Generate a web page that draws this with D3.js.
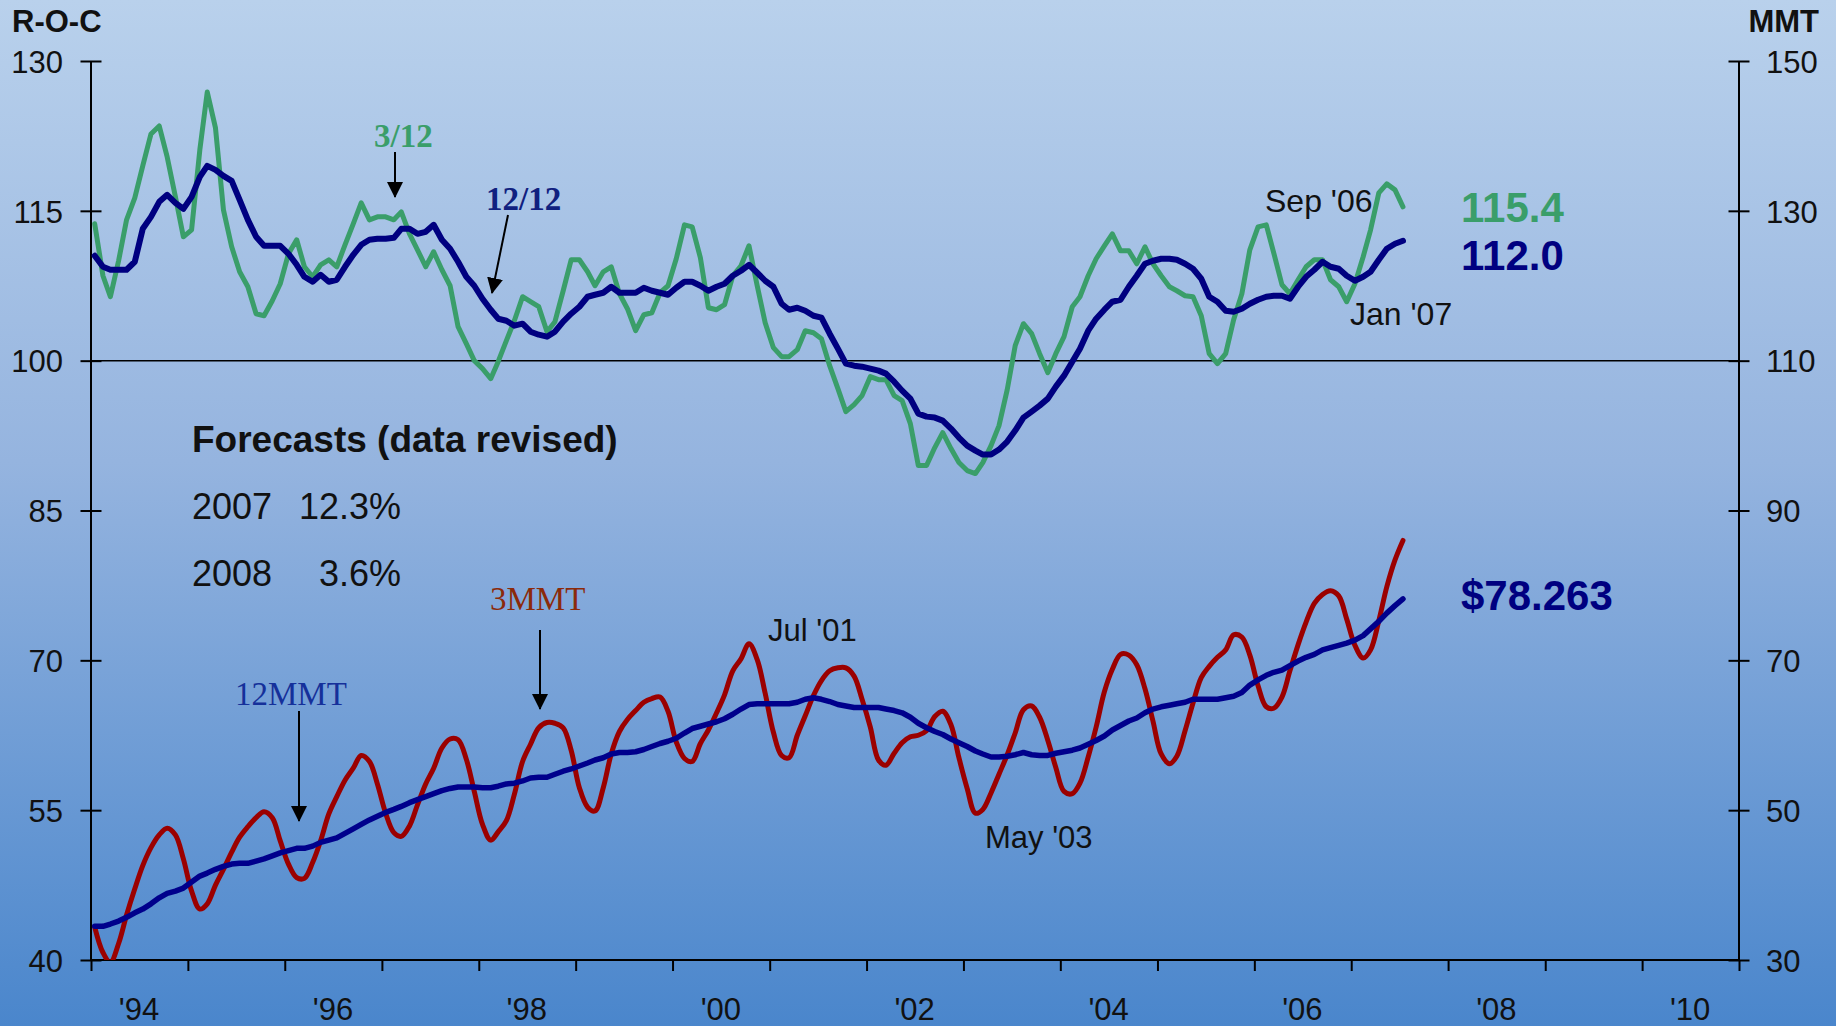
<!DOCTYPE html>
<html>
<head>
<meta charset="utf-8">
<script src="https://cdn.jsdelivr.net/npm/d3@7"></script>
<style>
  html, body { margin: 0; padding: 0; background: #fff; }
  svg { display: block; font-family: "Liberation Sans", Arial, sans-serif; }
</style>
</head>
<body>
<svg id="chart" width="1836" height="1026"></svg>
<script>
// monthly series, Jan 1994 .. Jul 2007
const roc3 = [
  113.7, 108.5, 106.4, 110.0, 114.1, 116.3, 119.5, 122.7, 123.5, 120.4, 116.4, 112.4,
  113.1, 121.1, 126.9, 123.3, 115.1, 111.4, 108.9, 107.4, 104.7, 104.5, 106.0, 107.7,
  110.7, 112.1, 109.4, 108.4, 109.6, 110.1, 109.4, 111.6, 113.7, 115.8, 114.1, 114.4,
  114.4, 114.1, 114.9, 112.7, 111.1, 109.4, 110.9, 109.1, 107.5, 103.4, 101.7, 100.0,
  99.2, 98.2, 99.9, 102.0, 104.0, 106.4, 105.9, 105.4, 102.9, 103.9, 107.0, 110.1,
  110.1, 108.9, 107.5, 108.9, 109.4, 106.7, 105.2, 103.0, 104.6, 104.8, 106.8, 107.5,
  110.2, 113.6, 113.4, 110.3, 105.3, 105.1, 105.6, 108.5, 109.5, 111.5, 107.5, 103.8,
  101.3, 100.4, 100.4, 101.1, 103.0, 102.8, 102.2, 99.5, 97.2, 94.9, 95.6, 96.5,
  98.4, 98.1, 98.1, 96.5, 96.0, 93.7, 89.5, 89.5, 91.3, 92.8, 91.2, 89.8,
  89.0, 88.7, 89.8, 91.5, 93.5, 97.1, 101.5, 103.7, 102.7, 100.7, 98.8, 100.7,
  102.4, 105.4, 106.4, 108.5, 110.2, 111.5, 112.7, 111.0, 111.0, 109.7, 111.4, 109.7,
  108.5, 107.4, 107.0, 106.5, 106.4, 104.5, 100.7, 99.7, 100.7, 104.1, 106.7, 111.1,
  113.4, 113.6, 110.8, 107.6, 106.7, 108.1, 109.4, 110.1, 110.1, 108.1, 107.4, 105.9,
  107.7, 110.4, 113.1, 116.8, 117.7, 117.1, 115.4
];
const roc12 = [
  110.5, 109.4, 109.1, 109.1, 109.1, 109.9, 113.2, 114.4, 115.9, 116.6, 115.8, 115.2,
  116.4, 118.4, 119.5, 119.1, 118.5, 118.0, 116.1, 114.1, 112.4, 111.5, 111.5, 111.5,
  110.7, 109.6, 108.4, 107.9, 108.6, 107.9, 108.1, 109.4, 110.6, 111.6, 112.1, 112.2,
  112.2, 112.3, 113.2, 113.2, 112.7, 112.9, 113.6, 112.1, 111.2, 109.9, 108.4, 107.5,
  106.2, 105.1, 104.2, 104.0, 103.5, 103.7, 102.9, 102.6, 102.4, 102.9, 103.9, 104.7,
  105.4, 106.4, 106.6, 106.8, 107.4, 106.8, 106.8, 106.8, 107.3, 107.0, 106.8, 106.6,
  107.3, 107.9, 107.9, 107.5, 107.0, 107.4, 107.7, 108.5, 109.0, 109.6, 108.8, 108.0,
  107.4, 105.7, 105.1, 105.3, 105.0, 104.5, 104.3, 102.7, 101.2, 99.7, 99.5, 99.4,
  99.2, 99.0, 98.7, 97.9, 97.0, 96.2, 94.7, 94.4, 94.3, 94.0, 93.2, 92.3,
  91.5, 91.0, 90.6, 90.6, 91.1, 91.9, 93.0, 94.3, 94.9, 95.5, 96.2, 97.4,
  98.5, 99.9, 101.2, 103.0, 104.2, 105.1, 105.9, 106.1, 107.4, 108.5, 109.7, 110.0,
  110.2, 110.2, 110.1, 109.7, 109.2, 108.2, 106.4, 105.9, 105.0, 104.9, 105.2, 105.7,
  106.1, 106.4, 106.5, 106.5, 106.2, 107.4, 108.4, 109.1, 109.9, 109.4, 109.2, 108.5,
  108.0, 108.4, 108.9, 110.1, 111.2, 111.7, 112.0
];
const mmt3 = [
  34.4, 31.0, 29.7, 32.2, 36.0, 39.5, 42.6, 45.0, 46.7, 47.6, 46.7, 43.5,
  39.2, 36.8, 37.5, 40.0, 42.1, 44.4, 46.4, 47.8, 49.0, 49.8, 49.0, 45.9,
  42.8, 41.0, 40.9, 43.0, 45.9, 49.5, 51.8, 54.0, 55.6, 57.3, 56.5, 53.5,
  49.6, 47.0, 46.5, 47.9, 50.7, 53.5, 55.6, 58.3, 59.5, 59.4, 56.8, 52.5,
  48.1, 46.0, 47.1, 48.6, 52.1, 56.5, 58.8, 61.0, 61.7, 61.6, 61.0, 58.0,
  53.0, 50.4, 49.9, 53.0, 57.5, 60.5, 62.1, 63.3, 64.4, 64.9, 65.1, 63.2,
  59.1, 56.9, 56.5, 58.9, 60.7, 63.0, 65.4, 68.6, 70.2, 72.2, 70.1, 65.6,
  60.4, 57.3, 57.0, 60.0, 62.6, 65.3, 67.3, 68.6, 69.0, 69.0, 67.9, 64.8,
  61.1, 56.7, 56.0, 57.6, 59.0, 59.8, 60.0, 60.6, 62.5, 63.2, 61.4, 57.0,
  52.9, 49.6, 50.1, 52.3, 54.8, 57.4, 60.3, 63.4, 63.9, 62.4, 59.3, 55.7,
  52.5, 52.2, 53.6, 57.1, 61.1, 65.8, 68.8, 70.8, 70.7, 69.4, 66.2, 61.9,
  57.5, 56.2, 57.2, 60.6, 64.3, 67.7, 69.2, 70.4, 71.4, 73.4, 73.1, 70.7,
  66.6, 63.8, 63.6, 65.1, 68.6, 72.1, 75.1, 77.6, 78.8, 79.3, 78.6, 75.5,
  72.0, 70.3, 71.4, 75.3, 79.8, 83.4, 86.0
];
const mmt12 = [
  34.5, 34.5, 34.8, 35.2, 35.7, 36.3, 36.8, 37.5, 38.3, 38.9, 39.2, 39.6,
  40.4, 41.2, 41.6, 42.1, 42.5, 42.8, 42.9, 42.9, 43.2, 43.5, 43.9, 44.3,
  44.6, 44.9, 44.9, 45.2, 45.7, 46.0, 46.3, 46.9, 47.5, 48.1, 48.7, 49.2,
  49.7, 50.1, 50.5, 51.0, 51.4, 51.8, 52.2, 52.6, 52.9, 53.1, 53.1, 53.1,
  53.0, 53.0, 53.2, 53.5, 53.6, 53.9, 54.3, 54.4, 54.4, 54.8, 55.2, 55.5,
  55.9, 56.3, 56.7, 57.0, 57.5, 57.7, 57.7, 57.8, 58.1, 58.5, 58.9, 59.2,
  59.6, 60.3, 60.9, 61.2, 61.5, 61.8, 62.2, 62.8, 63.5, 64.1, 64.2, 64.2,
  64.2, 64.2, 64.2, 64.4, 64.8, 65.0, 64.8, 64.5, 64.1, 63.9, 63.7, 63.7,
  63.7, 63.7, 63.5, 63.3, 63.0, 62.4, 61.6, 61.0, 60.5, 60.1, 59.5, 59.0,
  58.5, 57.9, 57.5, 57.1, 57.1, 57.2, 57.4, 57.7, 57.4, 57.3, 57.3, 57.6,
  57.8, 58.0, 58.3, 58.8, 59.3, 59.9, 60.7, 61.3, 61.9, 62.3, 63.0, 63.5,
  63.8, 64.0, 64.2, 64.4, 64.8, 64.8, 64.8, 64.8, 65.0, 65.2, 65.7, 66.7,
  67.4, 68.0, 68.4, 68.7, 69.3, 69.9, 70.4, 70.8, 71.4, 71.7, 72.0, 72.3,
  72.7, 73.3, 74.2, 75.2, 76.3, 77.3, 78.2
];

const leftTicks = [40, 55, 70, 85, 100, 115, 130];
const rightTicks = [30, 50, 70, 90, 110, 130, 150];
const yearLabels = [1994, 1996, 1998, 2000, 2002, 2004, 2006, 2008, 2010];
const forecasts = [
  { year: '2007', value: '12.3%' },
  { year: '2008', value: '3.6%' }
];

const W = 1836, H = 1026;
const plot = { left: 91, right: 1739, top: 61, bottom: 960 };

const GREEN = '#3a9e6a';
const NAVY = '#000080';
const RED = '#9b0000';

const svg = d3.select('#chart');
const defs = svg.append('defs');

const bg = defs.append('linearGradient')
  .attr('id', 'bgGrad').attr('x1', 0).attr('y1', 0).attr('x2', 0).attr('y2', 1);
bg.append('stop').attr('offset', '0%').attr('stop-color', '#b9d1ec');
bg.append('stop').attr('offset', '45%').attr('stop-color', '#95b4df');
bg.append('stop').attr('offset', '100%').attr('stop-color', '#4a86cc');

defs.append('clipPath').attr('id', 'plotClip')
  .append('rect')
  .attr('x', plot.left).attr('y', plot.top)
  .attr('width', plot.right - plot.left).attr('height', plot.bottom - plot.top);

defs.append('marker')
  .attr('id', 'arrow')
  .attr('markerUnits', 'userSpaceOnUse')
  .attr('viewBox', '0 0 16 16')
  .attr('refX', 15).attr('refY', 8)
  .attr('markerWidth', 16).attr('markerHeight', 16)
  .attr('orient', 'auto')
  .append('path')
  .attr('d', 'M0,0 L16,8 L0,16 Z')
  .attr('fill', '#000');

svg.append('rect').attr('width', W).attr('height', H).attr('fill', 'url(#bgGrad)');

const x = d3.scaleTime()
  .domain([new Date(1994, 0, 1), new Date(2011, 0, 1)])
  .range([plot.left, plot.right]);
const yL = d3.scaleLinear().domain([40, 130]).range([plot.bottom, plot.top]);
const yR = d3.scaleLinear().domain([30, 150]).range([plot.bottom, plot.top]);

const dates = d3.range(roc3.length).map(i => new Date(1994, i, 15));

// axes
const leftAxis = svg.append('g')
  .attr('transform', `translate(${plot.left},0)`)
  .call(d3.axisLeft(yL).tickValues(leftTicks).tickSize(0).tickPadding(28));
const rightAxis = svg.append('g')
  .attr('transform', `translate(${plot.right},0)`)
  .call(d3.axisRight(yR).tickValues(rightTicks).tickSize(0).tickPadding(27));

for (const ax of [leftAxis, rightAxis]) {
  ax.select('.domain')
    .attr('d', `M0,${plot.top}V${plot.bottom}`)
    .attr('stroke', '#000').attr('stroke-width', 2);
  ax.selectAll('.tick line')
    .attr('x1', -10.5).attr('x2', 10.5)
    .attr('stroke', '#000').attr('stroke-width', 2);
  ax.selectAll('.tick text')
    .attr('font-size', 31).attr('fill', '#111').attr('dy', '0.36em')
    .attr('font-family', '"Liberation Sans", Arial, sans-serif');
}

const bottomAxis = svg.append('g')
  .attr('transform', `translate(0,${plot.bottom})`)
  .call(d3.axisBottom(x).ticks(d3.timeYear.every(1)).tickSize(11).tickFormat(''));
bottomAxis.select('.domain')
  .attr('d', `M${plot.left},0H${plot.right}`)
  .attr('stroke', '#000').attr('stroke-width', 2);
bottomAxis.selectAll('.tick line').attr('stroke', '#000').attr('stroke-width', 2);

svg.append('g').selectAll('text')
  .data(yearLabels)
  .join('text')
  .attr('x', d => x(new Date(d, 6, 1)))
  .attr('y', 1020)
  .attr('text-anchor', 'middle')
  .attr('font-size', 31)
  .attr('fill', '#111')
  .text(d => "'" + String(d).slice(2));

svg.append('text').attr('x', 12).attr('y', 32)
  .attr('font-size', 31).attr('font-weight', 'bold').attr('fill', '#111').text('R-O-C');
svg.append('text').attr('x', 1819).attr('y', 32).attr('text-anchor', 'end')
  .attr('font-size', 31).attr('font-weight', 'bold').attr('fill', '#111').text('MMT');

// reference line at 100
svg.append('line')
  .attr('x1', plot.left).attr('x2', plot.right)
  .attr('y1', yL(100)).attr('y2', yL(100))
  .attr('stroke', '#000').attr('stroke-width', 1.5);

// series
const lines = svg.append('g').attr('clip-path', 'url(#plotClip)');

function drawLine(values, yScale, color, width, curve) {
  const gen = d3.line()
    .x((d, i) => x(dates[i]))
    .y(d => yScale(d))
    .curve(curve || d3.curveLinear);
  lines.append('path')
    .datum(values)
    .attr('d', gen)
    .attr('fill', 'none')
    .attr('stroke', color)
    .attr('stroke-width', width)
    .attr('stroke-linejoin', 'round')
    .attr('stroke-linecap', 'round');
}

drawLine(mmt3, yR, RED, 5, d3.curveCatmullRom.alpha(0.5));
drawLine(mmt12, yR, '#00008c', 5.5);
drawLine(roc3, yL, GREEN, 5);
drawLine(roc12, yL, NAVY, 6);

// annotations
function label(txt, px, py, opts = {}) {
  svg.append('text')
    .attr('x', px).attr('y', py)
    .attr('font-size', opts.size || 31)
    .attr('font-weight', opts.bold ? 'bold' : 'normal')
    .attr('font-family', opts.serif ? '"Liberation Serif", "Times New Roman", serif' : null)
    .attr('text-anchor', opts.anchor || 'start')
    .attr('fill', opts.color || '#111')
    .text(txt);
}

function arrow(x1, y1, x2, y2) {
  svg.append('line')
    .attr('x1', x1).attr('y1', y1).attr('x2', x2).attr('y2', y2)
    .attr('stroke', '#000').attr('stroke-width', 2)
    .attr('marker-end', 'url(#arrow)');
}

label('3/12', 374, 147, { size: 33, bold: true, serif: true, color: GREEN });
arrow(395, 152, 395, 197);
label('12/12', 486, 210, { size: 33, bold: true, serif: true, color: '#10207f' });
arrow(508, 215, 492, 293);
label('3MMT', 490, 610, { size: 33, serif: true, color: '#8b2a0a' });
arrow(540, 630, 540, 709);
label('12MMT', 235, 705, { size: 33, serif: true, color: '#15309a' });
arrow(299, 711, 299, 821);

label("Sep '06", 1265, 212, { size: 32 });
label("Jan '07", 1350, 325, { size: 32 });
label("Jul '01", 768, 641, { size: 31 });
label("May '03", 985, 848, { size: 31 });

label(roc3[roc3.length - 1].toFixed(1), 1461, 222, { size: 42, bold: true, color: GREEN });
label(roc12[roc12.length - 1].toFixed(1), 1461, 270, { size: 42, bold: true, color: NAVY });
label('$78.263', 1461, 610, { size: 42, bold: true, color: NAVY });

label('Forecasts (data revised)', 192, 452, { size: 37, bold: true });
forecasts.forEach((f, i) => {
  label(f.year, 192, 519 + i * 67, { size: 36 });
  label(f.value, 401, 519 + i * 67, { size: 36, anchor: 'end' });
});
</script>
</body>
</html>
